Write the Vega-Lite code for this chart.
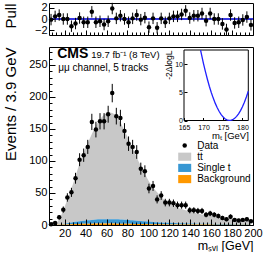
{
 "$schema": "https://vega.github.io/schema/vega-lite/v6.json",
 "padding": {"left": 2, "top": 1, "right": 0, "bottom": 0},
 "spacing": 9,
 "config": {
  "font": "Liberation Sans",
  "view": {"stroke": "black", "strokeWidth": 1},
  "axis": {"grid": false, "domain": false, "labelOverlap": false, "labelBound": false, "labelFlush": false, "tickColor": "black", "labelColor": "black", "titleColor": "black", "titleFontWeight": "normal", "labelFont": "Liberation Sans", "titleFont": "Liberation Sans", "tickWidth": 1}
 },
 "datasets": {
  "bins": [
   {"x":6.95,"n":1,"e":1,"pull":-0.11,"pe":1,"tt":0.5,"st":0,"bg":0},
   {"x":10.85,"n":3,"e":1.7,"pull":0.46,"pe":1,"tt":1.8,"st":0.1,"bg":0.1},
   {"x":14.75,"n":12,"e":3.5,"pull":0.69,"pe":1,"tt":8.3,"st":0.4,"bg":0.3},
   {"x":18.65,"n":24,"e":4.9,"pull":0,"pe":1,"tt":21.4,"st":1.0,"bg":0.6},
   {"x":22.55,"n":43,"e":6.6,"pull":0,"pe":1,"tt":37.3,"st":1.8,"bg":0.9},
   {"x":26.45,"n":51,"e":7.1,"pull":-1.26,"pe":1,"tt":53.2,"st":2.6,"bg":1.2},
   {"x":30.35,"n":73,"e":8.5,"pull":-0.8,"pe":1,"tt":71.1,"st":3.4,"bg":1.5},
   {"x":34.25,"n":102,"e":10.1,"pull":0.17,"pe":1,"tt":90.1,"st":4.2,"bg":1.7},
   {"x":38.15,"n":109,"e":10.4,"pull":-0.57,"pe":1,"tt":106.3,"st":4.8,"bg":1.9},
   {"x":42.05,"n":122,"e":11.0,"pull":-0.57,"pe":1,"tt":120.6,"st":5.4,"bg":2.0},
   {"x":45.95,"n":161,"e":12.7,"pull":1.26,"pe":1,"tt":134,"st":5.9,"bg":2.1},
   {"x":49.85,"n":149,"e":12.2,"pull":-0.57,"pe":1,"tt":146.5,"st":6.3,"bg":2.2},
   {"x":53.75,"n":162,"e":12.7,"pull":-0.4,"pe":1,"tt":156.2,"st":6.6,"bg":2.2},
   {"x":57.65,"n":162,"e":12.7,"pull":-0.97,"pe":1,"tt":163,"st":6.8,"bg":2.2},
   {"x":61.55,"n":173,"e":13.2,"pull":-0.4,"pe":1,"tt":166.9,"st":6.9,"bg":2.2},
   {"x":65.45,"n":206,"e":14.4,"pull":1.83,"pe":1,"tt":165.9,"st":6.9,"bg":2.2},
   {"x":69.35,"n":170,"e":13.0,"pull":0.11,"pe":1,"tt":161.1,"st":6.8,"bg":2.1},
   {"x":73.25,"n":167,"e":12.9,"pull":0.57,"pe":1,"tt":151.4,"st":6.6,"bg":2.0},
   {"x":77.15,"n":147,"e":12.1,"pull":0,"pe":1,"tt":139.8,"st":6.3,"bg":1.9},
   {"x":81.05,"n":127,"e":11.3,"pull":-0.57,"pe":1,"tt":126.2,"st":6.0,"bg":1.8},
   {"x":84.95,"n":122,"e":11.0,"pull":0.11,"pe":1,"tt":112.7,"st":5.6,"bg":1.7},
   {"x":88.85,"n":114,"e":10.7,"pull":0.69,"pe":1,"tt":99.2,"st":5.2,"bg":1.6},
   {"x":92.75,"n":88,"e":9.4,"pull":-0.11,"pe":1,"tt":85.7,"st":4.8,"bg":1.5},
   {"x":96.65,"n":84,"e":9.2,"pull":0.23,"pe":1,"tt":74.2,"st":4.4,"bg":1.4},
   {"x":100.55,"n":57,"e":7.5,"pull":-1.43,"pe":1,"tt":62.7,"st":4.0,"bg":1.3},
   {"x":104.45,"n":61,"e":7.8,"pull":0.11,"pe":1,"tt":54.2,"st":3.6,"bg":1.2},
   {"x":108.35,"n":40,"e":6.3,"pull":-1.54,"pe":1,"tt":46.6,"st":3.3,"bg":1.1},
   {"x":112.25,"n":46,"e":6.8,"pull":0.11,"pe":1,"tt":40,"st":3.0,"bg":1.0},
   {"x":116.15,"n":35,"e":5.9,"pull":-0.57,"pe":1,"tt":34.4,"st":2.7,"bg":0.9},
   {"x":120.05,"n":35,"e":5.9,"pull":0.11,"pe":1,"tt":30.6,"st":2.5,"bg":0.9},
   {"x":123.95,"n":34,"e":5.8,"pull":0.46,"pe":1,"tt":26.9,"st":2.3,"bg":0.8},
   {"x":127.85,"n":31,"e":5.6,"pull":0.46,"pe":1,"tt":24.1,"st":2.1,"bg":0.8},
   {"x":131.75,"n":31,"e":5.6,"pull":0.8,"pe":1,"tt":22.3,"st":1.9,"bg":0.8},
   {"x":135.65,"n":31,"e":5.6,"pull":1.43,"pe":1,"tt":20.5,"st":1.8,"bg":0.7},
   {"x":139.55,"n":23,"e":4.8,"pull":0.17,"pe":1,"tt":18.6,"st":1.7,"bg":0.7},
   {"x":143.45,"n":23,"e":4.8,"pull":0.57,"pe":1,"tt":17.2,"st":1.6,"bg":0.7},
   {"x":147.35,"n":22,"e":4.7,"pull":0.57,"pe":1,"tt":15.9,"st":1.5,"bg":0.6},
   {"x":151.25,"n":22,"e":4.7,"pull":0.97,"pe":1,"tt":14.5,"st":1.4,"bg":0.6},
   {"x":155.15,"n":16,"e":4.0,"pull":-0.29,"pe":1,"tt":13.6,"st":1.3,"bg":0.6},
   {"x":159.05,"n":18,"e":4.2,"pull":0.97,"pe":1,"tt":12.7,"st":1.2,"bg":0.6},
   {"x":162.95,"n":16,"e":4.0,"pull":0,"pe":1,"tt":11.9,"st":1.1,"bg":0.5},
   {"x":166.85,"n":14,"e":3.7,"pull":0,"pe":1,"tt":11,"st":1.0,"bg":0.5},
   {"x":170.75,"n":11,"e":3.3,"pull":-0.86,"pe":1,"tt":10.2,"st":1.0,"bg":0.5},
   {"x":174.65,"n":9,"e":3.0,"pull":-1.83,"pe":1,"tt":9.6,"st":0.9,"bg":0.5},
   {"x":178.55,"n":13,"e":3.6,"pull":0.69,"pe":1,"tt":8.9,"st":0.9,"bg":0.5},
   {"x":182.45,"n":8,"e":2.8,"pull":-0.69,"pe":1,"tt":8.4,"st":0.8,"bg":0.5},
   {"x":186.35,"n":7,"e":2.6,"pull":-0.57,"pe":1,"tt":7.9,"st":0.8,"bg":0.4},
   {"x":190.25,"n":8,"e":2.8,"pull":-0.17,"pe":1,"tt":7.5,"st":0.7,"bg":0.4},
   {"x":194.15,"n":9,"e":3.0,"pull":0.34,"pe":1,"tt":7.0,"st":0.7,"bg":0.4},
   {"x":198.05,"n":6,"e":2.4,"pull":-1.03,"pe":1,"tt":6.7,"st":0.6,"bg":0.4}
  ],
  "scan": [
   {"mt":169.25,"nll":12.49},{"mt":169.5,"nll":11.66},{"mt":170,"nll":10.10},{"mt":170.5,"nll":8.65},
   {"mt":171,"nll":7.31},{"mt":171.5,"nll":6.08},{"mt":172,"nll":4.97},{"mt":172.5,"nll":3.97},
   {"mt":173,"nll":3.08},{"mt":173.5,"nll":2.30},{"mt":174,"nll":1.64},{"mt":174.5,"nll":1.09},
   {"mt":175,"nll":0.65},{"mt":175.5,"nll":0.32},{"mt":176,"nll":0.11},{"mt":176.5,"nll":0.01},
   {"mt":177,"nll":0.02},{"mt":177.5,"nll":0.14},{"mt":178,"nll":0.38},{"mt":178.5,"nll":0.73},
   {"mt":179,"nll":1.19},{"mt":179.5,"nll":1.76},{"mt":180,"nll":2.45},{"mt":180.5,"nll":3.25},
   {"mt":181,"nll":4.16},{"mt":181.5,"nll":5.18}
  ]
 },
 "vconcat": [
  {
   "width": 204, "height": 32,
   "data": {"name": "bins"},
   "layer": [
    {
     "layer": [
      {"mark": {"type": "rule", "color": "#3838e0", "strokeWidth": 1}, "encoding": {"y": {"datum": 0, "axis": null}}},
      {"mark": {"type": "errorbar", "color": "black", "thickness": 1},
       "encoding": {
        "x": {"field": "x", "type": "quantitative", "axis": null, "scale": {"domain": [5, 200], "nice": false, "zero": false}},
        "y": {"field": "pull", "type": "quantitative", "axis": null, "scale": {"domain": [-2.8, 2.8], "nice": false}},
        "yError": {"field": "pe"}
       }},
      {"mark": {"type": "point", "filled": true, "color": "black", "size": 20, "opacity": 1},
       "encoding": {"x": {"field": "x", "type": "quantitative", "axis": null}, "y": {"field": "pull", "type": "quantitative", "axis": null}}}
     ]
    },
    {"mark": {"type": "point", "opacity": 0},
     "encoding": {
      "x": {"field": "x", "type": "quantitative", "scale": {"domain": [5, 200], "nice": false, "zero": false},
            "axis": {"orient": "bottom", "values": [20,40,60,80,100,120,140,160,180,200], "labels": false, "tickSize": -5, "title": null, "zindex": 1}},
      "y": {"field": "pull", "type": "quantitative", "scale": {"domain": [-2.8, 2.8], "nice": false},
            "axis": {"orient": "left", "values": [-2, 0, 2], "labelOverlap": false, "tickSize": -5, "labelPadding": 7, "labelFontSize": 11, "title": "Pull", "titleFontSize": 15, "titleAnchor": "end", "titleX": -31, "zindex": 1}}}},
    {"mark": {"type": "point", "opacity": 0},
     "encoding": {"x": {"field": "x", "type": "quantitative", "scale": {"domain": [5, 200], "nice": false, "zero": false},
                        "axis": {"orient": "bottom", "values": [8,12,16,24,28,32,36,44,48,52,56,64,68,72,76,84,88,92,96,104,108,112,116,124,128,132,136,144,148,152,156,164,168,172,176,184,188,192,196], "labels": false, "tickSize": -3, "title": null, "zindex": 1}}}}
   ],
   "resolve": {"scale": {"x": "independent", "y": "independent"}}
  },
  {
   "width": 204, "height": 178,
   "layer": [
    {
     "data": {"name": "bins"},
     "layer": [
      {"transform": [{"fold": ["tt", "st", "bg"], "as": ["proc", "v"]}],
       "mark": {"type": "area", "interpolate": "monotone"},
       "encoding": {
        "x": {"field": "x", "type": "quantitative", "axis": null, "scale": {"domain": [5, 200], "nice": false, "zero": false}},
        "y": {"field": "v", "type": "quantitative", "axis": null, "stack": "zero", "scale": {"domain": [0, 278], "nice": false}},
        "color": {"field": "proc", "type": "nominal",
                  "scale": {"domain": ["data", "tt", "st", "bg"], "range": ["black", "#c8c8c8", "#3797d3", "#ff9800"]},
                  "legend": {"orient": "none", "legendX": 130.7, "legendY": 137.5, "title": null, "padding": 0,
                             "labelFontSize": 10, "labelFont": "Liberation Sans", "labelColor": "black", "labelOffset": 7.5,
                             "rowPadding": 1.2, "symbolSize": 66, "symbolStrokeWidth": 0, "symbolOpacity": 1,
                             "labelExpr": "datum.value == 'data' ? 'Data' : datum.value == 'tt' ? 'tt̄' : datum.value == 'st' ? 'Single t' : 'Background'",
                             "encoding": {"symbols": {
                               "shape": {"value": {"signal": "datum.value === 'data' ? 'circle' : 'M-1.6,-1H1.6V1H-1.6Z'"}},
                               "size": {"value": {"signal": "datum.value === 'data' ? 20 : 66"}}}}}},
        "order": {"field": "proc", "sort": "ascending"}
       }},
      {"mark": {"type": "errorbar", "color": "black", "thickness": 1},
       "encoding": {"x": {"field": "x", "type": "quantitative", "axis": null}, "y": {"field": "n", "type": "quantitative", "axis": null}, "yError": {"field": "e"}}},
      {"mark": {"type": "point", "filled": true, "color": "black", "size": 20, "opacity": 1},
       "encoding": {"x": {"field": "x", "type": "quantitative", "axis": null}, "y": {"field": "n", "type": "quantitative", "axis": null}}},
      {"data": {"values": [{"t": "CMS"}]},
       "mark": {"type": "text", "fontWeight": "bold", "fontSize": 14, "align": "left", "baseline": "alphabetic", "color": "black"},
       "encoding": {"x": {"datum": 12.9}, "y": {"datum": 261}, "text": {"field": "t"}}},
      {"data": {"values": [{"t": "19.7 fb⁻¹ (8 TeV)"}]},
       "mark": {"type": "text", "fontSize": 9.5, "align": "left", "baseline": "alphabetic", "color": "black"},
       "encoding": {"x": {"datum": 45.4}, "y": {"datum": 261}, "text": {"field": "t"}}},
      {"data": {"values": [{"t": "μμ channel, 5 tracks"}]},
       "mark": {"type": "text", "fontSize": 10, "align": "left", "baseline": "alphabetic", "color": "black"},
       "encoding": {"x": {"datum": 13.9}, "y": {"datum": 240.6}, "text": {"field": "t"}}}
     ]
    },
    {
     "data": {"name": "scan"},
     "layer": [
      {"data": {"values": [{}]},
       "mark": {"type": "rect", "fill": "white", "stroke": "black", "strokeWidth": 1},
       "encoding": {
        "x": {"datum": 165, "type": "quantitative", "title": "mₜ [GeV]", "scale": {"domain": [165, 181.5], "range": [135, 199.3], "nice": false, "zero": false}},
        "x2": {"datum": 181.5},
        "y": {"datum": 0, "type": "quantitative", "title": "-2ΔlogL", "scale": {"domain": [0, 12.5], "range": [73.5, 3], "nice": false, "zero": false}},
        "y2": {"datum": 12.5}}},
      {"mark": {"type": "line", "color": "#2020ff", "strokeWidth": 1.3},
       "encoding": {
        "x": {"field": "mt", "type": "quantitative", "title": "mₜ [GeV]",
              "axis": {"orient": "bottom", "offset": -104.5, "values": [165, 170, 175, 180], "labelOverlap": false, "tickSize": -3, "labelPadding": 5.5, "labelFontSize": 7, "titleFontSize": 9.5, "titleAnchor": "end", "titlePadding": 0.5, "zindex": 1}},
        "y": {"field": "nll", "type": "quantitative", "title": "-2ΔlogL",
              "axis": {"orient": "left", "offset": -135, "values": [0, 5, 10], "labelOverlap": false, "tickSize": -3, "labelPadding": 4.5, "labelFontSize": 7, "titleFontSize": 8.5, "titleAnchor": "end", "titlePadding": 1, "zindex": 1}}}}
     ]
    },
    {
     "data": {"name": "bins"},
     "mark": {"type": "point", "opacity": 0},
     "encoding": {
      "x": {"field": "x", "type": "quantitative", "scale": {"domain": [5, 200], "nice": false, "zero": false},
            "axis": {"orient": "bottom", "values": [20,40,60,80,100,120,140,160,180,200], "labelOverlap": false, "tickSize": -6, "labelPadding": 8, "labelFontSize": 11, "title": "mₛᵥₗ [GeV]", "titleFontSize": 12.5, "titleAnchor": "end", "titlePadding": 1, "zindex": 1}},
      "y": {"field": "n", "type": "quantitative", "scale": {"domain": [0, 278], "nice": false},
            "axis": {"orient": "left", "values": [0,50,100,150,200,250], "labelOverlap": false, "tickSize": -6, "labelPadding": 8, "labelFontSize": 11, "title": "Events / 3.9 GeV", "titleFontSize": 15, "titleAnchor": "end", "titleX": -31, "zindex": 1}}}
    },
    {
     "data": {"name": "bins"},
     "mark": {"type": "point", "opacity": 0},
     "encoding": {
      "x": {"field": "x", "type": "quantitative", "scale": {"domain": [5, 200], "nice": false, "zero": false},
            "axis": {"orient": "bottom", "values": [8,12,16,24,28,32,36,44,48,52,56,64,68,72,76,84,88,92,96,104,108,112,116,124,128,132,136,144,148,152,156,164,168,172,176,184,188,192,196], "labels": false, "tickSize": -3, "title": null, "zindex": 1}},
      "y": {"field": "n", "type": "quantitative", "scale": {"domain": [0, 278], "nice": false},
            "axis": {"orient": "left", "values": [10,20,30,40,60,70,80,90,110,120,130,140,160,170,180,190,210,220,230,240,260,270], "labels": false, "tickSize": -3, "title": null, "zindex": 1}}}
    }
   ],
   "resolve": {"scale": {"x": "independent", "y": "independent"}}
  }
 ]
}
